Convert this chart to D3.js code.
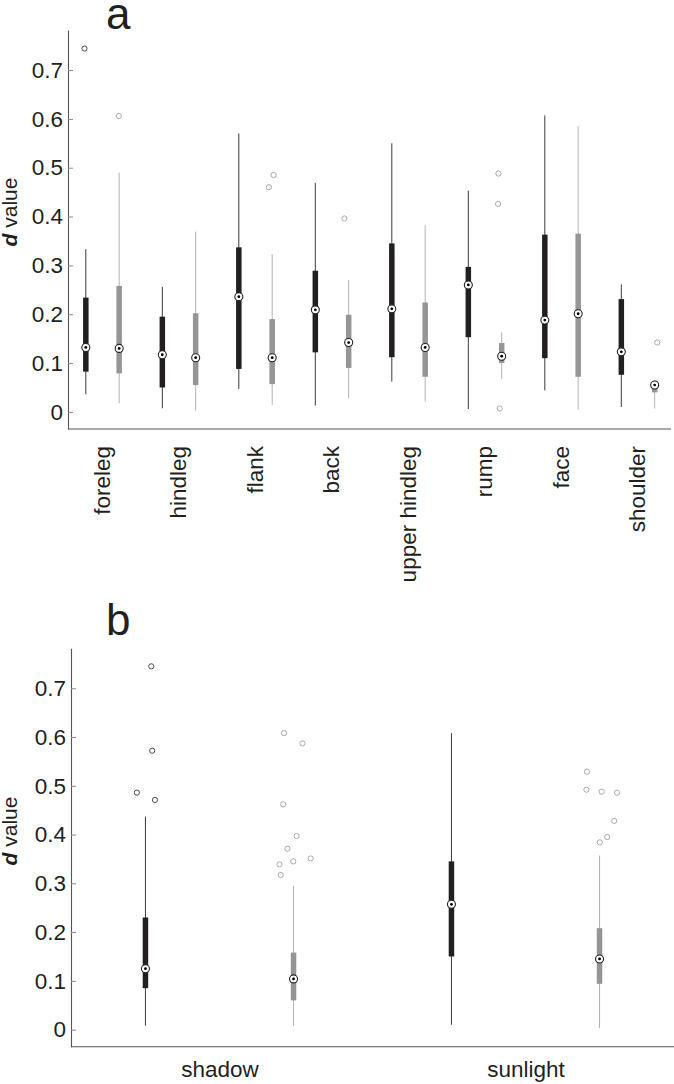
<!DOCTYPE html>
<html>
<head>
<meta charset="utf-8">
<script src="https://cdn.jsdelivr.net/npm/d3@7"></script>
<style>
  html, body { margin: 0; padding: 0; background: #fff; }
  svg { display: block; font-family: "Liberation Sans", Arial, Helvetica, sans-serif; }
</style>
</head>
<body>
<svg id="chart" width="674" height="1084"></svg>
<script>
// ---------------- DATA ----------------
const bodyParts = ["foreleg", "hindleg", "flank", "back", "upper hindleg", "rump", "face", "shoulder"];
const lightConditions = ["shadow", "sunlight"];
const yTickValues = [0, 0.1, 0.2, 0.3, 0.4, 0.5, 0.6, 0.7];

// Panel a, dark series: [lower whisker, q1, median, q3, upper whisker]
const partsDarkStats = [
  [0.036, 0.0825, 0.132, 0.234, 0.333],
  [0.0075, 0.050, 0.117, 0.195, 0.256],
  [0.047, 0.088, 0.236, 0.337, 0.570],
  [0.013, 0.122, 0.209, 0.289, 0.469],
  [0.062, 0.112, 0.211, 0.345, 0.550],
  [0.006, 0.153, 0.260, 0.297, 0.453],
  [0.044, 0.110, 0.188, 0.363, 0.607],
  [0.010, 0.076, 0.123, 0.231, 0.261]
];
// Panel a, light series
const partsLightStats = [
  [0.018, 0.079, 0.130, 0.258, 0.490],
  [0.003, 0.055, 0.111, 0.202, 0.369],
  [0.014, 0.057, 0.111, 0.190, 0.323],
  [0.028, 0.090, 0.142, 0.199, 0.270],
  [0.021, 0.072, 0.132, 0.224, 0.382],
  [0.067, 0.100, 0.114, 0.141, 0.163],
  [0.005, 0.072, 0.201, 0.365, 0.585],
  [0.007, 0.040, 0.055, 0.060, 0.065]
];
// outliers: [value, jitter in category units]
const partsDarkOutliers = [
  [[0.744, -0.018]], [], [], [], [], [], [], []
];
const partsLightOutliers = [
  [[0.606, -0.005]],
  [],
  [[0.460, -0.043], [0.485, 0.018]],
  [[0.396, -0.056]],
  [],
  [[0.488, -0.043], [0.426, -0.047], [0.007, -0.026]],
  [],
  [[0.142, 0.034]]
];

// Panel b
const lightDarkStats = [
  [0.008, 0.085, 0.125, 0.230, 0.437],
  [0.010, 0.150, 0.257, 0.345, 0.608]
];
const lightLightStats = [
  [0.008, 0.060, 0.104, 0.158, 0.295],
  [0.003, 0.094, 0.145, 0.208, 0.357]
];
const lightDarkOutliers = [
  [[0.745, 0.019], [0.572, 0.022], [0.486, -0.028], [0.471, 0.031]],
  []
];
const lightLightOutliers = [
  [[0.608, -0.031], [0.587, 0.029], [0.462, -0.034], [0.397, 0.010], [0.371, -0.020],
   [0.351, 0.056], [0.345, -0.001], [0.339, -0.046], [0.317, -0.042]],
  [[0.529, -0.041], [0.492, -0.043], [0.488, 0.007], [0.486, 0.057], [0.428, 0.048],
   [0.395, 0.025], [0.384, 0.001]]
];

// ---------------- STYLE ----------------
const DARK = { box: "#231f20", whisker: "#3a3a3a", outlier: "#3a3a3a" };
const LIGHT = { box: "#959595", whisker: "#b2b2b2", outlier: "#a0a0a0" };
const AXIS_COLOR = "#555";
const TEXT_COLOR = "#231f20";
const FONT_SIZE = 22.5;

const svg = d3.select("#chart");
const yDomain = [-0.035, 0.782];

function drawPanel(cfg) {
  const g = svg.append("g");
  const y = d3.scaleLinear().domain(yDomain).range([cfg.bottom, cfg.top]);
  const x = d3.scaleLinear().domain([0, cfg.categories.length]).range(cfg.xRange);

  // y axis
  const yAxis = d3.axisLeft(y)
    .tickValues(yTickValues)
    .tickSizeInner(-5).tickSizeOuter(0).tickPadding(5)
    .tickFormat(d => d === 0 ? "0" : d3.format(".1f")(d));
  const ya = g.append("g").attr("transform", `translate(${cfg.left},0)`).call(yAxis);
  ya.select(".domain").attr("stroke", AXIS_COLOR).attr("stroke-width", 1.1);
  ya.selectAll(".tick line").attr("stroke", "#888").attr("stroke-width", 1);
  ya.selectAll(".tick text").attr("fill", TEXT_COLOR).style("font-size", FONT_SIZE + "px");

  // x axis
  const xAxis = d3.axisBottom(x)
    .tickValues(cfg.categories.map((c, i) => i + 0.5))
    .tickSize(0)
    .tickFormat((d, i) => cfg.categories[i]);
  const xa = g.append("g").attr("transform", `translate(0,${cfg.bottom})`).call(xAxis);
  xa.select(".domain").remove();
  xa.append("line").attr("x1", cfg.left).attr("x2", cfg.right).attr("y1", 0).attr("y2", 0)
    .attr("stroke", AXIS_COLOR).attr("stroke-width", 1.1);
  const xt = xa.selectAll(".tick text").attr("fill", TEXT_COLOR).style("font-size", FONT_SIZE + "px");
  if (cfg.rotate) {
    xt.attr("transform", "rotate(-90)").attr("text-anchor", "end")
      .attr("x", -17).attr("y", -1).attr("dy", "0.35em");
  } else {
    xt.attr("y", 14);
  }

  // boxes
  const series = [
    { stats: cfg.darkStats, outliers: cfg.darkOutliers, off: -cfg.offset, col: DARK },
    { stats: cfg.lightStats, outliers: cfg.lightOutliers, off: cfg.offset, col: LIGHT }
  ];
  const boxW = 5.5;
  series.forEach(s => {
    s.stats.forEach((st, i) => {
      const cx = x(i + 0.5 + s.off);
      const [lo, q1, med, q3, hi] = st;
      g.append("line").attr("x1", cx).attr("x2", cx).attr("y1", y(lo)).attr("y2", y(hi))
        .attr("stroke", s.col.whisker).attr("stroke-width", 1);
      g.append("rect").attr("x", cx - boxW / 2).attr("width", boxW)
        .attr("y", y(q3)).attr("height", y(q1) - y(q3))
        .attr("fill", s.col.box);
      s.outliers[i].forEach(([v, j]) => {
        g.append("circle").attr("cx", x(i + 0.5 + s.off + j)).attr("cy", y(v)).attr("r", 2.6)
          .attr("fill", "none").attr("stroke", s.col.outlier).attr("stroke-width", 0.9);
      });
      g.append("circle").attr("cx", cx).attr("cy", y(med)).attr("r", 4)
        .attr("fill", "#fff").attr("stroke", "#231f20").attr("stroke-width", 1.1);
      g.append("circle").attr("cx", cx).attr("cy", y(med)).attr("r", 1.4).attr("fill", "#000");
    });
  });

  // y label
  const yl = g.append("text")
    .attr("transform", `translate(17,${cfg.labelY}) rotate(-90)`)
    .attr("text-anchor", "middle").attr("fill", TEXT_COLOR)
    .style("font-size", "21px");
  yl.append("tspan").text("d").style("font-weight", "bold").style("font-style", "italic");
  yl.append("tspan").text(" value");

  // panel letter
  g.append("text").attr("x", 106).attr("y", cfg.letterY).text(cfg.letter)
    .attr("fill", TEXT_COLOR).style("font-size", "44px");
}

drawPanel({
  categories: bodyParts,
  darkStats: partsDarkStats, lightStats: partsLightStats,
  darkOutliers: partsDarkOutliers, lightOutliers: partsLightOutliers,
  top: 30, bottom: 429, left: 68, right: 671,
  xRange: [64.25, 676.25], offset: 0.218, rotate: true,
  labelY: 212, letter: "a", letterY: 29
});

drawPanel({
  categories: lightConditions,
  darkStats: lightDarkStats, lightStats: lightLightStats,
  darkOutliers: lightDarkOutliers, lightOutliers: lightLightOutliers,
  top: 648.3, bottom: 1046.7, left: 71, right: 674,
  xRange: [66.5, 678.5], offset: 0.242, rotate: false,
  labelY: 831, letter: "b", letterY: 635
});
</script>
</body>
</html>
